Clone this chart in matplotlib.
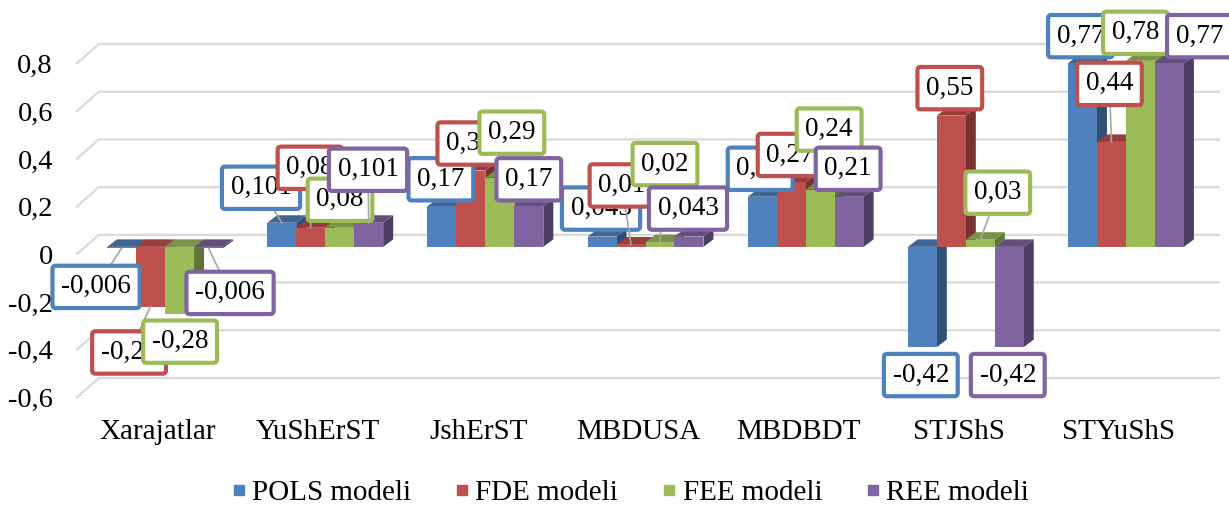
import matplotlib
matplotlib.use("Agg")
import matplotlib.pyplot as plt
import matplotlib.colors as mcolors
from matplotlib.transforms import offset_copy
from matplotlib.patches import Polygon
from matplotlib.lines import Line2D

# ---------------- data ----------------
categories = ["Xarajatlar", "YuShErST", "JshErST", "MBDUSA", "MBDBDT", "STJShS", "STYuShS"]
series_names = ["POLS modeli", "FDE modeli", "FEE modeli", "REE modeli"]
pols = [-0.006, 0.101, 0.17, 0.043, 0.21, -0.42, 0.77]
fde = [-0.25, 0.08, 0.32, 0.01, 0.27, 0.55, 0.44]
fee = [-0.28, 0.08, 0.29, 0.02, 0.24, 0.03, 0.78]
ree = [-0.006, 0.101, 0.17, 0.043, 0.21, -0.42, 0.77]
y_ticks = [-0.6, -0.4, -0.2, 0, 0.2, 0.4, 0.6, 0.8]
y_tick_labels = ["-0,6", "-0,4", "-0,2", "0", "0,2", "0,4", "0,6", "0,8"]

series = [pols, fde, fee, ree]

# ---------------- style / layout ----------------
colors = ["#4F81BD", "#C0504D", "#9BBB59", "#8064A2"]
grid_color = "#D9D9D9"
leader_color = "#A6A6A6"
FS_LABEL = 19.5
FS_TICK = 20.5
FS_CAT = 21
FS_LEG = 21
BAR_W = 0.181          # width of one bar (category units)
DEPTH_PX = (10, 7.5)    # 3-D depth of a bar in pixels (right, up)
BACK_PX = (14, 12)      # back wall offset from bar plane
FRONT_PX = (-9, -8)     # front edge offset from bar plane

# label offsets (pixels: right, down) relative to bar end
label_offsets = [
    [(-25.5, 38.6), (-20.7, -35), (-1, -27), (-1, -28), (-2, -28), (-1.5, 28), (-2, -27)],
    [(-21.5, 46), (-0.7, -60), (-1, -27), (-9, -59), (-1, -27.5), (-1.5, -27.5), (-2, -58)],
    [(0.5, 28), (0.3, -28), (12, -45), (5, -78), (9, -60), (17.5, -47), (-5, -28)],
    [(21.5, 44.6), (-0.7, -53), (0, -27), (-1, -28), (-1, -28), (-1.5, 28), (30, -27)],
]
leaders = {(0, 0), (1, 0), (3, 0), (0, 1), (1, 1), (3, 1), (1, 3), (2, 3), (2, 5), (1, 6)}

plt.rcParams["font.family"] = ["Liberation Serif", "DejaVu Serif"]

W, H = 1229, 505
fig = plt.figure(figsize=(W / 100, H / 100), dpi=100)
ax = fig.add_axes([85 / W, (H - 390) / H, 1121 / W, 334 / H])
ax.set_xlim(-0.5, len(categories) - 0.5)
ax.set_ylim(-0.6, 0.8)
ax.axis("off")


def px_to_data(dx, dy):
    inv = ax.transData.inverted()
    o = ax.transData.transform((0, 0))
    p = inv.transform((o[0] + dx, o[1] + dy))
    return p[0], p[1]


DX, DY = px_to_data(*DEPTH_PX)
BX, BY = px_to_data(*BACK_PX)
FX, FY = px_to_data(*FRONT_PX)

x_lo, x_hi = ax.get_xlim()

# gridlines (3-D wall)
for v, lab in zip(y_ticks, y_tick_labels):
    ax.plot([x_lo + FX, x_lo + BX, x_hi + BX], [v + FY, v + BY, v + BY],
            color=grid_color, lw=1.6, zorder=1, clip_on=False,
            solid_capstyle="butt")
    ax.text(x_lo + FX, v + FY, lab, fontsize=FS_TICK, ha="right", va="center",
            transform=offset_copy(ax.transData, fig=fig, x=-23, y=-2.5, units="dots"))


def shade(c, f):
    r, g, b = mcolors.to_rgb(c)
    return (r * f, g * f, b * f)


# bars
for j, vals in enumerate(series):
    col = colors[j]
    for i, v in enumerate(vals):
        x0 = i - 2 * BAR_W + j * BAR_W
        x1 = x0 + BAR_W
        lo, hi = min(0, v), max(0, v)
        z = 2 + j * 0.1
        side = [(x1, lo), (x1, hi), (x1 + DX, hi + DY), (x1 + DX, lo + DY)]
        top = [(x0, hi), (x1, hi), (x1 + DX, hi + DY), (x0 + DX, hi + DY)]
        front = [(x0, lo), (x1, lo), (x1, hi), (x0, hi)]
        ax.add_patch(Polygon(side, closed=True, fc=shade(col, 0.62), ec="none", zorder=z, clip_on=False))
        ax.add_patch(Polygon(top, closed=True, fc=shade(col, 0.78), ec="none", zorder=z + 0.01, clip_on=False))
        ax.add_patch(Polygon(front, closed=True, fc=col, ec="none", zorder=z + 0.02, clip_on=False))

# data labels
for j, vals in enumerate(series):
    col = colors[j]
    for i, v in enumerate(vals):
        xc = i - 2 * BAR_W + (j + 0.5) * BAR_W
        dx, dy = label_offsets[j][i]
        tr = offset_copy(ax.transData, fig=fig, x=dx, y=-dy, units="dots")
        txt = ("%g" % v).replace(".", ",")
        z = 10 + j
        if (j, i) in leaders:
            p0 = ax.transData.transform((xc, v))
            p1 = (p0[0] + dx, p0[1] - dy)
            ax.add_line(Line2D([p0[0], p1[0]], [p0[1], p1[1]], transform=None,
                               color=leader_color, lw=1.2, zorder=z - 0.5))
        ax.text(xc, v, txt, transform=tr, fontsize=FS_LABEL, ha="center", va="center",
                zorder=z,
                bbox=dict(boxstyle="round,pad=0.32,rounding_size=0.12", fc="white",
                          ec=col, lw=3))

# category labels
for i, c in enumerate(categories):
    ax.text(i, -0.6, c, fontsize=FS_CAT, ha="center", va="center",
            transform=offset_copy(ax.transData, fig=fig, x=-7, y=-42, units="dots"))

handles = [Line2D([], [], marker="s", ls="", color=c, markersize=7.5) for c in colors]
fig.legend(handles, series_names, loc="center", bbox_to_anchor=(0.513, 0.024),
           ncol=4, frameon=False, fontsize=FS_LEG, handlelength=0.5,
           handletextpad=0.2, columnspacing=1.5, borderpad=0.0)

fig.savefig("out.png", dpi=100)
